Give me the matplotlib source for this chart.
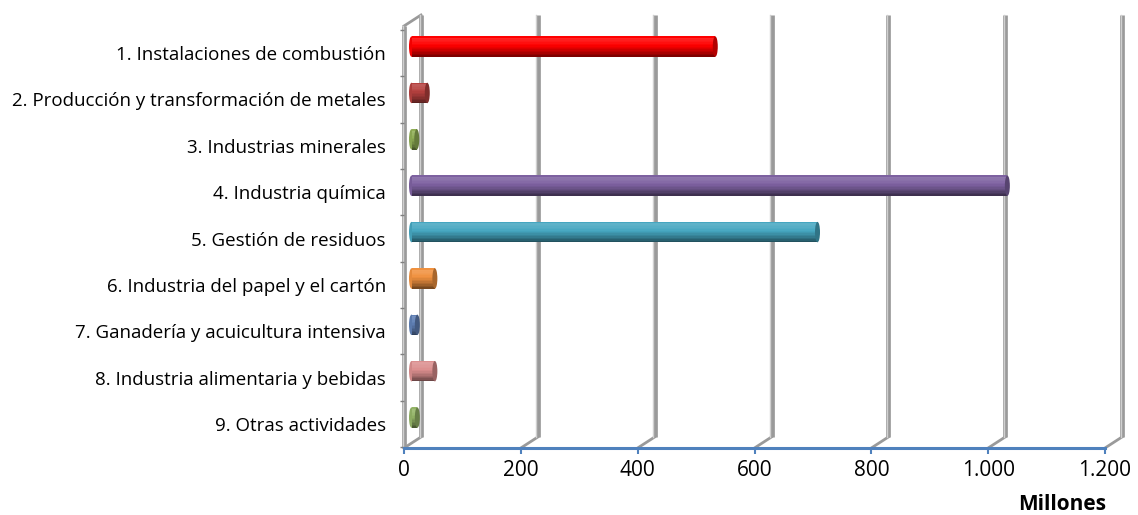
import matplotlib
matplotlib.use('Agg')
import matplotlib.pyplot as plt
from matplotlib.patches import Ellipse
from matplotlib.colors import to_rgb
import numpy as np

# Datos: emisiones por sector (millones)
categorias = ['1. Instalaciones de combustión',
              '2. Producción y transformación de metales',
              '3. Industrias minerales',
              '4. Industria química',
              '5. Gestión de residuos',
              '6. Industria del papel y el cartón',
              '7. Ganadería y acuicultura intensiva',
              '8. Industria alimentaria y bebidas',
              '9. Otras actividades']
valores = [520, 27, 9, 1020, 695, 40, 10, 40, 10]
colores = ['#FF0000', '#B5403E', '#8FAE55', '#7D61A0', '#45A6C0',
           '#F0913F', '#5F7FB5', '#DB8E8E', '#93B466']
ticks_x = [0, 200, 400, 600, 800, 1000, 1200]
etiquetas_x = ['0', '200', '400', '600', '800', '1.000', '1.200']

plt.rcParams['font.family'] = ['Open Sans', 'DejaVu Sans']

W, H = 1138, 515
fig = plt.figure(figsize=(W / 100, H / 100), dpi=100)
ax = fig.add_axes([404 / W, 67 / H, 701 / W, 422 / H])

paso_y = 46.375                     # pixeles por categoria
px_x = 701 / 1200                   # pixeles por unidad en x
y_sup = (26 - 53) / paso_y
y_inf = (448 - 53) / paso_y
ax.set_xlim(0, 1200)
ax.set_ylim(y_inf, y_sup)

# desplazamiento de profundidad (efecto 3D)
DX = 17 / px_x
DY = -11 / paso_y

gris = '#9a9a9a'
claro = '#d0d0d0'

def linea_muro(x0, y0, x1, y1):
    ax.plot([x0, x1], [y0, y1], color=gris, lw=3.4, solid_capstyle='butt',
            zorder=1, clip_on=False)
    ax.plot([x0 - 1.4 / px_x, x1 - 1.4 / px_x], [y0, y1], color=claro, lw=1.0,
            zorder=1.1, clip_on=False)

# lineas de division del fondo y del suelo
for v in ticks_x:
    linea_muro(v + DX, y_sup + DY, v + DX, y_inf + DY)
    ax.plot([v, v + DX], [y_inf, y_inf + DY], color=gris, lw=2.0,
            zorder=1, clip_on=False)
# pared izquierda
linea_muro(0, y_sup, 0, y_inf)
ax.plot([0, DX], [y_sup, y_sup + DY], color=gris, lw=2.0, zorder=1, clip_on=False)

def mezcla(c, f):
    c = np.array(to_rgb(c))
    if f >= 1:
        return tuple(c + (1 - c) * min(f - 1, 1))
    return tuple(c * f)

# barras cilindricas
alto = 0.44
n_tiras = 14
x_base = DX / 2 - 1 / px_x
y_desp = DY / 2 - 0.02
ancho_tapa = 5 / px_x
for i, (v, c) in enumerate(zip(valores, colores)):
    yc = i + y_desp
    ax.add_patch(Ellipse((x_base, yc), ancho_tapa, alto, color=mezcla(c, 0.95),
                         lw=0, zorder=2.9))
    for j in range(n_tiras):
        t = (j + 0.5) / n_tiras
        f = 1.15 - 0.7 * t ** 1.8
        if t < 0.1:
            f = 1.0
        yj = yc - alto / 2 + (j + 0.5) * alto / n_tiras
        ax.barh(yj, v, left=x_base, height=alto / n_tiras * 1.05,
                color=mezcla(c, f), lw=0, zorder=3)
    ax.add_patch(Ellipse((x_base + v, yc), ancho_tapa, alto, color=mezcla(c, 0.7),
                         lw=0, zorder=3.5))

# ejes
for lado in ['top', 'right', 'left']:
    ax.spines[lado].set_visible(False)
ax.spines['bottom'].set_color('#4F81BD')
ax.spines['bottom'].set_linewidth(2.2)
ax.set_xticks(ticks_x)
ax.set_xticklabels(etiquetas_x, fontsize=15)
ax.tick_params(axis='x', colors='#4F81BD', length=4, width=1.5, pad=5,
               labelcolor='black')
ax.set_yticks(range(len(categorias)))
ax.set_yticklabels(categorias, fontsize=13.5)
ax.tick_params(axis='y', length=0, pad=13)
ax.set_yticks(np.arange(-0.5, len(categorias), 1.0), minor=True)
ax.tick_params(axis='y', which='minor', length=3, width=1, color='#7f7f7f')

fig.text(1062 / W, 1 - 505 / H, 'Millones', fontsize=15, fontweight='bold',
         ha='center', va='center')

fig.savefig('out.png', dpi=100)
